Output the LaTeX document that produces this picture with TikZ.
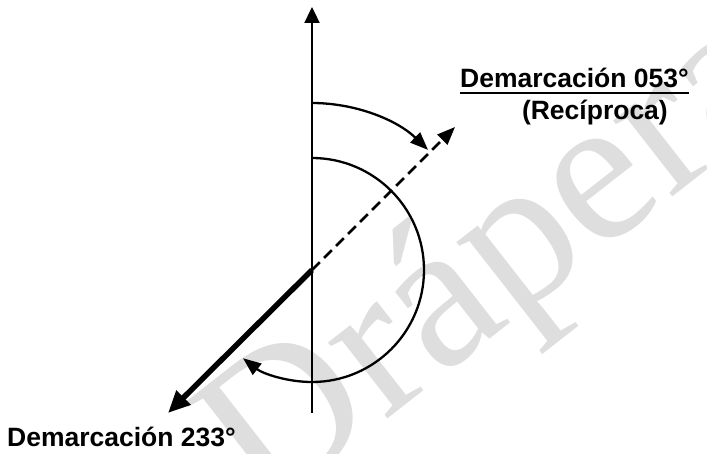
\documentclass[tikz,border=0pt]{standalone}
\usepackage{fontspec}
\setmainfont{Liberation Sans}
\newfontfamily\wmfont{Liberation Serif}
\usetikzlibrary{arrows.meta}
\tikzset{
  axisline/.style={line width=2.3pt},
  arcline/.style={line width=2.3pt, -{Triangle[length=18pt,width=14pt]}},
  dashline/.style={line width=2.6pt, dash pattern=on 11pt off 6pt, -{Triangle[length=18pt,width=14pt]}},
  boldline/.style={line width=5.5pt, -{Triangle[length=22pt,width=19pt]}},
  lbl/.style={font=\fontsize{26.5}{30}\selectfont\bfseries, inner sep=0pt},
  watermark/.style={font=\wmfont\fontsize{210}{210}\selectfont, text=black!13, inner sep=0pt, rotate=38}
}
\begin{document}
\begin{tikzpicture}[x=1pt,y=1pt]
\useasboundingbox (0,0) rectangle (707,453);
\begin{scope}
  \clip (0,0) rectangle (707,453);
  \node[watermark] (wm) at (500,186) {Drápera};
\end{scope}
% coordinates
\coordinate (O) at (312,183);
\coordinate (N) at (312,446);
\coordinate (S) at (312,40);
\coordinate (NE) at (455,326);
\coordinate (SW) at (168,40);
\coordinate (A1) at (312,350);
\coordinate (A2) at (312,295);
% axis
\draw[axisline, -{Triangle[length=16pt,width=15pt]}] (S) -- (N);
% dashed reciprocal
\draw[dashline] (O) -- (NE);
% bold demarcation
\draw[boldline] (O) -- (SW);
% arcs
\draw[arcline] (A1) arc[start angle=90, end angle=46, radius=167];
\draw[arcline] (A2) arc[start angle=90, end angle=-128, radius=112];
% labels
\node[lbl, anchor=base east] (t1) at (689,365) {Demarcación 053°};
\draw[line width=2.5pt] ([yshift=-5pt]t1.base west) -- ([yshift=-5pt]t1.base east);
\node[lbl, anchor=base east] (t2) at (668,333) {(Recíproca)};
\node[lbl, anchor=base west] (t3) at (7,7) {Demarcación 233°};
\end{tikzpicture}
\end{document}
